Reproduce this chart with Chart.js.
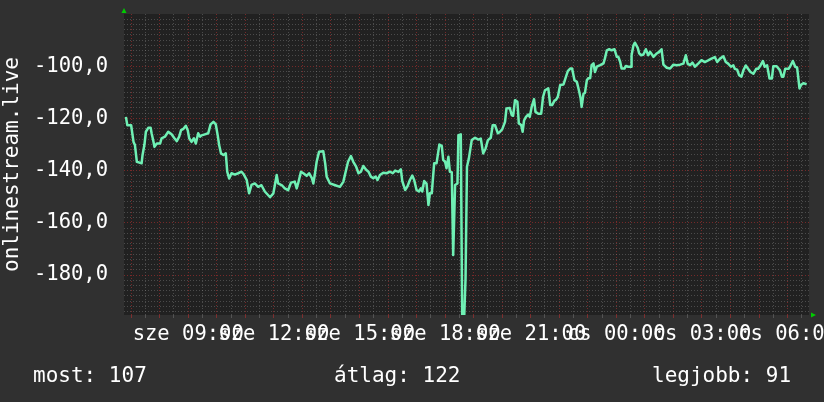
<!DOCTYPE html>
<html lang="hu">
<head>
<meta charset="UTF-8">
<title>onlinestream.live</title>
<style>
  html, body { margin: 0; padding: 0; background: #303030; overflow: hidden; }
  canvas { display: block; }
</style>
</head>
<body>
<canvas id="chart" width="824" height="402"></canvas>
<script src="https://cdn.jsdelivr.net/npm/chart.js@4"></script>
<script>
// minutes after sze 06:45, one day window
const minutes = [
  4, 7, 15, 20, 23, 27, 37, 39, 43, 46, 51, 56, 58, 62, 64, 69, 76, 79, 86, 93,
  100, 106, 111, 116, 120, 125, 130, 134, 137, 142, 147, 151, 156, 160, 163, 170, 177, 182, 188, 193,
  197, 200, 204, 209, 214, 217, 221, 226, 233, 240, 247, 252, 258, 263, 268, 275, 282, 289, 296, 307,
  314, 321, 324, 332, 338, 345, 351, 359, 363, 366, 372, 377, 384, 389, 395, 398, 401, 405, 410, 419,
  423, 426, 433, 444, 454, 461, 466, 471, 477, 482, 488, 493, 498, 503, 509, 514, 519, 524, 529, 533,
  538, 545, 552, 559, 565, 570, 577, 582, 585, 591, 596, 601, 606, 610, 615, 620, 624, 627, 631, 636,
  640, 643, 647, 652, 657, 663, 668, 671, 675, 678, 682, 685, 689, 692, 696, 701, 703, 708, 711, 715,
  718, 721, 725, 731, 738, 745, 750, 755, 760, 765, 771, 775, 780, 786, 790, 795, 801, 804, 811, 815,
  818, 822, 827, 830, 835, 838, 841, 845, 850, 853, 857, 862, 865, 871, 877, 881, 885, 892, 896, 900,
  905, 908, 912, 917, 924, 929, 933, 938, 942, 947, 952, 957, 960, 962, 966, 969, 973, 976, 980, 983,
  987, 990, 994, 1001, 1008, 1011, 1015, 1020, 1025, 1031, 1036, 1039, 1043, 1046, 1052, 1055, 1060, 1066, 1067, 1071,
  1074, 1080, 1083, 1087, 1092, 1097, 1102, 1106, 1113, 1120, 1125, 1130, 1134, 1141, 1148, 1155, 1162, 1169, 1176, 1181,
  1185, 1190, 1195, 1200, 1207, 1214, 1221, 1228, 1235, 1242, 1247, 1253, 1260, 1265, 1270, 1276, 1281, 1284, 1289, 1293,
  1298, 1302, 1307, 1312, 1317, 1323, 1329, 1333, 1338, 1343, 1347, 1352, 1357, 1362, 1365, 1372, 1379, 1383, 1386, 1390,
  1397, 1400, 1406, 1411, 1415, 1420, 1423, 1428, 1435
];
const values = [
  -119.4, -122.6, -122.6, -129, -130.2, -136.6, -137.2, -134, -130, -125.1, -123.6, -123.6, -125.7, -128.9, -130.9, -129.6, -129.6, -127.6, -127, -125.1,
  -126.1, -127.6, -128.7, -127, -124.5, -124, -122.8, -124.5, -127.6, -129, -127.6, -129.6, -125.7, -127, -126.5, -126.1, -125.7, -122.3, -121.3, -122.3,
  -126.5, -130.2, -133.4, -134, -133.4, -140.4, -143, -141, -141.5, -141, -140.4, -141.5, -143.6, -148.7, -145.5, -144.9, -146.2, -145.6, -148, -150.2,
  -148.7, -141.7, -144.9, -145.6, -146.8, -147.5, -144.6, -144.2, -146.8, -144.9, -140.4, -141, -142, -141, -142.9, -144.9, -141.7, -136.6, -132.8, -132.6,
  -137.3, -142.3, -144.9, -145.6, -146.2, -144.3, -140.4, -136.6, -134.4, -136.6, -138.5, -141, -140.4, -138.2, -139.7, -140.4, -142.3, -142.9, -142.3, -143.6,
  -141.7, -140.8, -141, -140.4, -141, -140, -140.5, -139.5, -144, -147.4, -146, -143.6, -141.9, -143.6, -147.4, -148, -146.8, -148, -144, -145,
  -153.2, -148.7, -148.7, -137.2, -137.2, -130, -130.5, -135.9, -136.6, -139.1, -134.7, -140.4, -140.6, -172.3, -145.5, -144.9, -126.4, -126.1, -197, -197,
  -181.2, -138.5, -135.3, -128.3, -127.4, -128.1, -127.7, -133.4, -131.6, -128.3, -127.4, -122.6, -122.6, -125.7, -125.2, -124.2, -121.3, -116.2, -116, -118.7,
  -119, -113, -113.6, -121.9, -122.5, -125.1, -120.8, -119.4, -118.5, -119.4, -115.6, -112.6, -117.5, -118.2, -118.2, -111.7, -109.2, -108.5, -114.9, -114.9,
  -113.2, -112.9, -111.7, -107.2, -107, -104.1, -101.9, -100.9, -100.9, -105.4, -106, -109.8, -112.4, -115.6, -110.5, -110.2, -105.4, -104.6, -104.6, -99.6,
  -98.9, -102.2, -100.2, -99.6, -98.9, -97, -93.9, -93.5, -93.9, -93.5, -96.4, -96.4, -98.3, -100.9, -100.9, -99.9, -100.2, -100.2, -95.8, -92,
  -91, -93, -95.1, -95.8, -95.5, -93.5, -95.8, -94.5, -96.4, -95.1, -94.5, -93.5, -99.4, -100.6, -100.9, -99.4, -99.6, -99.4, -99, -95.8,
  -99, -99.6, -98.6, -100.2, -99, -97.7, -98.4, -97.8, -97.1, -96.5, -98.4, -97.1, -96.2, -98.4, -99, -100.2, -99.7, -101, -101.3, -103.4,
  -104, -101.6, -99.7, -101, -102.2, -102.9, -101, -101, -99.7, -98, -100.2, -99.7, -104.7, -104.7, -100, -100, -101.6, -104, -104, -101,
  -101, -100.2, -98, -100.2, -100.5, -108.5, -107.2, -106.5, -106.9
];

const yLabelValues = [-180, -160, -140, -120, -100];
const xLabelMinutes = [135, 315, 495, 675, 855, 1035, 1215, 1395];
const xLabels = ['sze 09:00', 'sze 12:00', 'sze 15:00', 'sze 18:00', 'sze 21:00', 'cs 00:00', 'cs 03:00', 'cs 06:00'];
const footer = ['most: 107', 'átlag: 122', 'legjobb: 91'];

const FONT = 'DejaVu Sans Mono';
const majorGrid = 'rgba(190, 50, 50, 0.55)';
const minorGrid = 'rgba(140, 140, 140, 0.4)';

const backdrop = {
    id: 'backdrop',
    beforeDraw(chart) {
        const { ctx, chartArea: a } = chart;
        ctx.save();
        ctx.fillStyle = '#303030';
        ctx.fillRect(0, 0, chart.width, chart.height);
        ctx.fillStyle = '#212121';
        ctx.fillRect(a.left, a.top, a.right - a.left, a.bottom - a.top);
        ctx.restore();
    },
    afterDraw(chart) {
        const { ctx, chartArea: a } = chart;
        ctx.save();
        // rrdtool style arrows
        ctx.fillStyle = '#00cc00';
        ctx.beginPath();
        ctx.moveTo(a.left - 2.5, a.top - 1);
        ctx.lineTo(a.left + 2.5, a.top - 1);
        ctx.lineTo(a.left, a.top - 6);
        ctx.fill();
        ctx.beginPath();
        ctx.moveTo(a.right + 2, a.bottom - 2.5);
        ctx.lineTo(a.right + 2, a.bottom + 2.5);
        ctx.lineTo(a.right + 7, a.bottom);
        ctx.fill();
        // footer
        ctx.fillStyle = '#ffffff';
        ctx.font = '21px "' + FONT + '"';
        ctx.textBaseline = 'alphabetic';
        ctx.textAlign = 'left';
        ctx.fillText(footer[0], 33, 382);
        ctx.fillText(footer[1], 334, 382);
        ctx.fillText(footer[2], 652, 382);
        ctx.restore();
    }
};

new Chart(document.getElementById('chart'), {
    type: 'line',
    data: {
        datasets: [{
            data: minutes.map((m, i) => ({ x: m, y: values[i] })),
            borderColor: '#6ff0b4',
            borderWidth: 2.5,
            borderJoinStyle: 'round',
            pointRadius: 0,
            tension: 0,
            fill: false
        }]
    },
    options: {
        responsive: false,
        animation: false,
        layout: { padding: { top: 14, right: 15, bottom: 47, left: 0 } },
        plugins: { legend: { display: false }, tooltip: { enabled: false } },
        scales: {
            x: {
                type: 'linear',
                min: 0,
                max: 1440,
                afterBuildTicks(scale) {
                    const t = [];
                    for (let m = 15; m < 1440; m += 30) t.push({ value: m });
                    scale.ticks = t;
                },
                afterFit(scale) {
                    scale.height = 40;
                    scale.paddingLeft = 0;
                    scale.paddingRight = 0;
                },
                grid: {
                    color: c => (c.tick && (c.tick.value - 15) % 60 === 0) ? majorGrid : minorGrid,
                    lineWidth: 1,
                    tickLength: 3
                },
                border: { display: false, dash: [1, 2] },
                ticks: {
                    autoSkip: false,
                    maxRotation: 0,
                    minRotation: 0,
                    padding: 4,
                    color: '#ffffff',
                    font: { family: FONT, size: 20.5 },
                    callback: v => {
                        const i = xLabelMinutes.indexOf(v);
                        return i >= 0 ? xLabels[i] : '';
                    }
                }
            },
            y: {
                min: -195.3,
                max: -80,
                afterBuildTicks(scale) {
                    const t = [];
                    for (let v = -194; v <= -82; v += 2) t.push({ value: v });
                    scale.ticks = t;
                },
                afterFit(scale) {
                    scale.width = 124;
                    scale.paddingTop = 0;
                    scale.paddingBottom = 0;
                },
                grid: {
                    color: c => (c.tick && c.tick.value % 20 === 0) ? majorGrid : minorGrid,
                    lineWidth: 1,
                    drawTicks: false
                },
                border: { display: false, dash: [1, 2] },
                ticks: {
                    autoSkip: false,
                    padding: 16,
                    color: '#ffffff',
                    font: { family: FONT, size: 20.5 },
                    callback: v => yLabelValues.includes(v) ? v.toFixed(1).replace('.', ',') : ''
                },
                title: {
                    display: true,
                    text: 'onlinestream.live',
                    color: '#ffffff',
                    font: { family: FONT, size: 21 },
                    padding: 0
                }
            }
        }
    },
    plugins: [backdrop]
});
</script>
</body>
</html>
